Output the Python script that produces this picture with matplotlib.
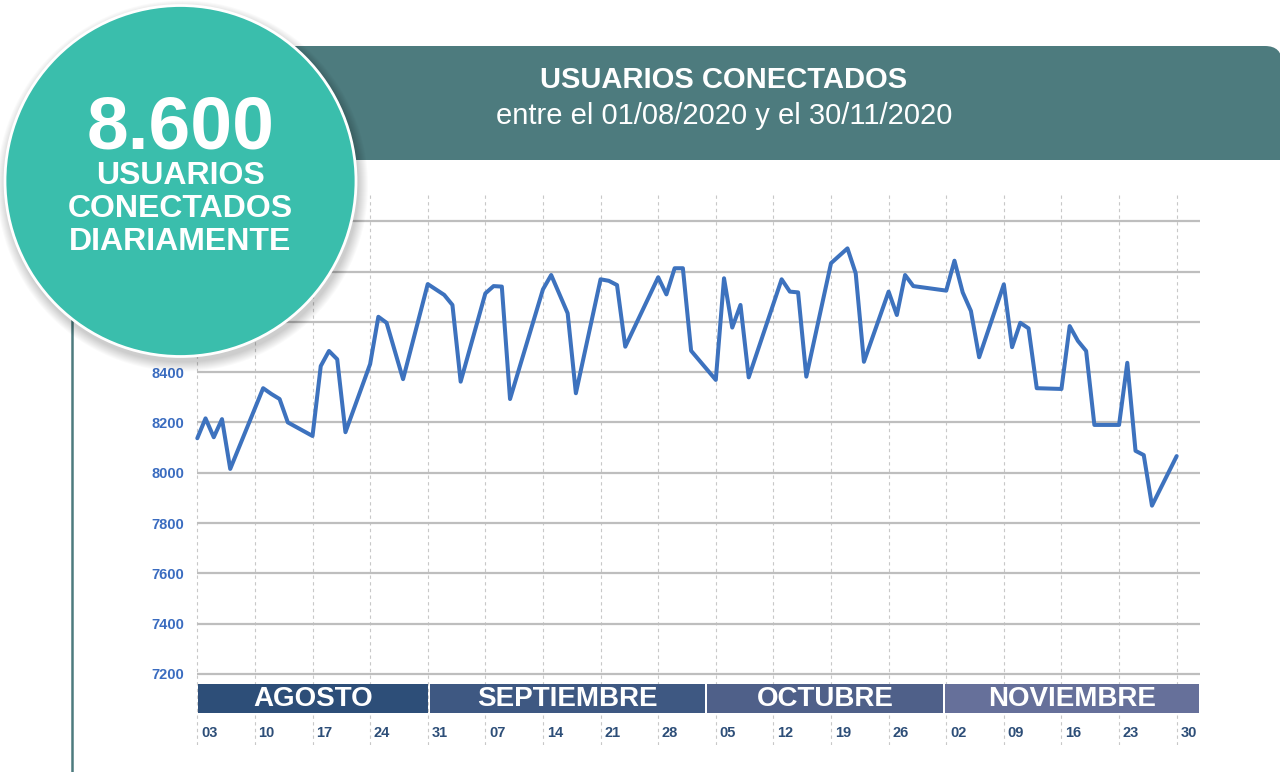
import matplotlib
matplotlib.use("Agg")
import matplotlib.pyplot as plt
from matplotlib.patches import Circle, Rectangle, FancyBboxPatch
import pandas as pd

plt.rcParams['font.family'] = ['Liberation Sans', 'DejaVu Sans']

# ---------------- data ----------------
fechas = [
    "2020-08-03", "2020-08-04", "2020-08-05", "2020-08-06", "2020-08-07",
    "2020-08-11", "2020-08-12", "2020-08-13", "2020-08-14",
    "2020-08-17", "2020-08-18", "2020-08-19", "2020-08-20", "2020-08-21",
    "2020-08-24", "2020-08-25", "2020-08-26", "2020-08-28",
    "2020-08-31", "2020-09-02", "2020-09-03", "2020-09-04",
    "2020-09-07", "2020-09-08", "2020-09-09", "2020-09-10",
    "2020-09-14", "2020-09-15", "2020-09-17", "2020-09-18",
    "2020-09-21", "2020-09-22", "2020-09-23", "2020-09-24",
    "2020-09-28", "2020-09-29", "2020-09-30", "2020-10-01", "2020-10-02",
    "2020-10-05", "2020-10-06", "2020-10-07", "2020-10-08", "2020-10-09",
    "2020-10-13", "2020-10-14", "2020-10-15", "2020-10-16",
    "2020-10-19", "2020-10-21", "2020-10-22", "2020-10-23",
    "2020-10-26", "2020-10-27", "2020-10-28", "2020-10-29",
    "2020-11-02", "2020-11-03", "2020-11-04", "2020-11-05", "2020-11-06",
    "2020-11-09", "2020-11-10", "2020-11-11", "2020-11-12", "2020-11-13",
    "2020-11-16", "2020-11-17", "2020-11-18", "2020-11-19", "2020-11-20",
    "2020-11-23", "2020-11-24", "2020-11-25", "2020-11-26", "2020-11-27",
    "2020-11-30",
]
usuarios = [
    8137, 8216, 8141, 8213, 8015,
    8336, 8313, 8293, 8200,
    8146, 8424, 8484, 8451, 8161,
    8432, 8620, 8596, 8372,
    8750, 8707, 8667, 8362,
    8713, 8742, 8740, 8293,
    8729, 8786, 8634, 8316,
    8769, 8763, 8746, 8501,
    8777, 8709, 8813, 8813, 8485,
    8369, 8773, 8577, 8667, 8379,
    8769, 8720, 8717, 8382,
    8833, 8892, 8793, 8441,
    8720, 8627, 8786, 8742,
    8724, 8843, 8717, 8643, 8459,
    8749, 8499, 8596, 8574, 8336,
    8333, 8583, 8524, 8484, 8190,
    8190, 8437, 8087, 8070, 7869,
    8066,
]
y_ticks = [7200, 7400, 7600, 7800, 8000, 8200, 8400, 8600, 8800, 9000]
# labels of 8600-9000 are hidden behind the circle in the original
y_labels = ["7200", "7400", "7600", "7800", "8000", "8200", "8400", "", "", ""]
meses = ["AGOSTO", "SEPTIEMBRE", "OCTUBRE", "NOVIEMBRE"]
inicio = "2020-08-03"
fin_semanas = "2020-11-30"

titulo = "USUARIOS CONECTADOS"
subtitulo = "entre el 01/08/2020 y el 30/11/2020"
cifra = "8.600"
cifra_texto = ["USUARIOS", "CONECTADOS", "DIARIAMENTE"]

# ---------------- derived ----------------
t0 = pd.Timestamp(inicio)
x = [(pd.Timestamp(f) - t0).days for f in fechas]
lunes = pd.date_range(inicio, fin_semanas, freq="7D")
x_lunes = [(d - t0).days for d in lunes]
lab_lunes = [d.strftime("%d") for d in lunes]

# layout (pixels, day units)
W, H = 1280, 772
px_day = 8.23
x0_px = 197.3
xmin_d, xmax_d = -1.0, 122.0
band_edges = [0.0, 28.1, 61.8, 90.7, 121.8]
band_cols = ["#2D4E78", "#3E5882", "#4F6089", "#66709A"]
grid_end = 121.8

fig = plt.figure(figsize=(W / 100, H / 100), dpi=100)
fig.patch.set_facecolor("white")

# main data axes
top_px, bot_px = 195, 745
ymin, ymax = 6917.3, 9104.2
left = (x0_px + xmin_d * px_day) / W
right = (x0_px + xmax_d * px_day) / W
ax = fig.add_axes([left, (H - bot_px) / H, right - left, (bot_px - top_px) / H])
ax.set_xlim(xmin_d, xmax_d)
ax.set_ylim(ymin, ymax)
for s in ax.spines.values():
    s.set_visible(False)
ax.set_facecolor("none")

# horizontal grid
ax.hlines(y_ticks, 0, grid_end, color="#BEBEBE", lw=1.6, zorder=1)
# dashed weekly lines
for xv in x_lunes:
    ax.axvline(xv, color="#C8C8C8", lw=0.8, ls=(0, (3, 3)), zorder=0.5)

# series
ax.plot(x, usuarios, color="#3D72BE", lw=2.9, solid_joinstyle="round",
        solid_capstyle="round", zorder=3)

# y labels
ax.set_yticks(y_ticks)
ax.set_yticklabels(y_labels, fontsize=10.5, fontweight="bold", color="#3A6CC0")
ax.tick_params(axis="y", length=0, pad=(left * W - 184) * 0.72)
ax.set_xticks([])

# month band
trans = ax.get_xaxis_transform()
band_top = (bot_px - 684) / (bot_px - top_px)
band_bot = (bot_px - 713) / (bot_px - top_px)
for i, m in enumerate(meses):
    a, b = band_edges[i], band_edges[i + 1]
    ax.add_patch(Rectangle((a + 0.12, band_bot), (b - a) - 0.24, band_top - band_bot,
                           transform=trans, facecolor=band_cols[i], edgecolor="none",
                           zorder=4, clip_on=False))
    ax.text((a + b) / 2, (band_top + band_bot) / 2, m, transform=trans,
            ha="center", va="center", color="white", fontsize=20,
            fontweight="bold", zorder=5)

# day labels
lab_y = (bot_px - 733) / (bot_px - top_px)
for xv, lb in zip(x_lunes, lab_lunes):
    ax.text(xv + 0.45, lab_y, lb, transform=trans, ha="left", va="center",
            fontsize=10.5, fontweight="bold", color="#2D4E78", zorder=5)

# ---------------- overlay decorations ----------------
ov = fig.add_axes([0, 0, 1, 1], zorder=10)
ov.set_xlim(0, W)
ov.set_ylim(H, 0)
ov.axis("off")
ov.set_facecolor("none")

teal_dark = "#4D7B7E"
# left vertical frame line
ov.plot([72, 72], [150, H], color=teal_dark, lw=1.8, solid_capstyle="butt", zorder=1)

# header box
ov.add_patch(FancyBboxPatch((72, 46), 1282 - 72, 160 - 46,
                            boxstyle="round,pad=0,rounding_size=17",
                            facecolor=teal_dark, edgecolor="none", zorder=2))
ov.add_patch(Rectangle((72, 100), 1290 - 72, 60, facecolor=teal_dark,
                       edgecolor="none", zorder=2))
ov.text(724, 80, titulo, ha="center", va="center", color="white",
        fontsize=21, fontweight="bold", zorder=3)
ov.text(724, 116, subtitulo, ha="center", va="center", color="white",
        fontsize=21, zorder=3)

# circle with shadow
cx, cy, r = 180.5, 181, 175.5
for i in range(10):
    ov.add_patch(Circle((cx + 2, cy + 5), r + 10 - i, facecolor="black",
                        edgecolor="none", alpha=0.018, zorder=4))
ov.add_patch(Circle((cx, cy), r, facecolor="#3ABEAC", edgecolor="white",
                    lw=2.0, zorder=5))
ov.text(cx, 129, cifra, ha="center", va="center", color="white",
        fontsize=54, fontweight="bold", zorder=6)
ov.text(cx, 209, "\n".join(cifra_texto), ha="center", va="center",
        multialignment="center", color="white", fontsize=23,
        fontweight="bold", linespacing=1.13, zorder=6)

fig.savefig("out.png", dpi=100, facecolor="white")
